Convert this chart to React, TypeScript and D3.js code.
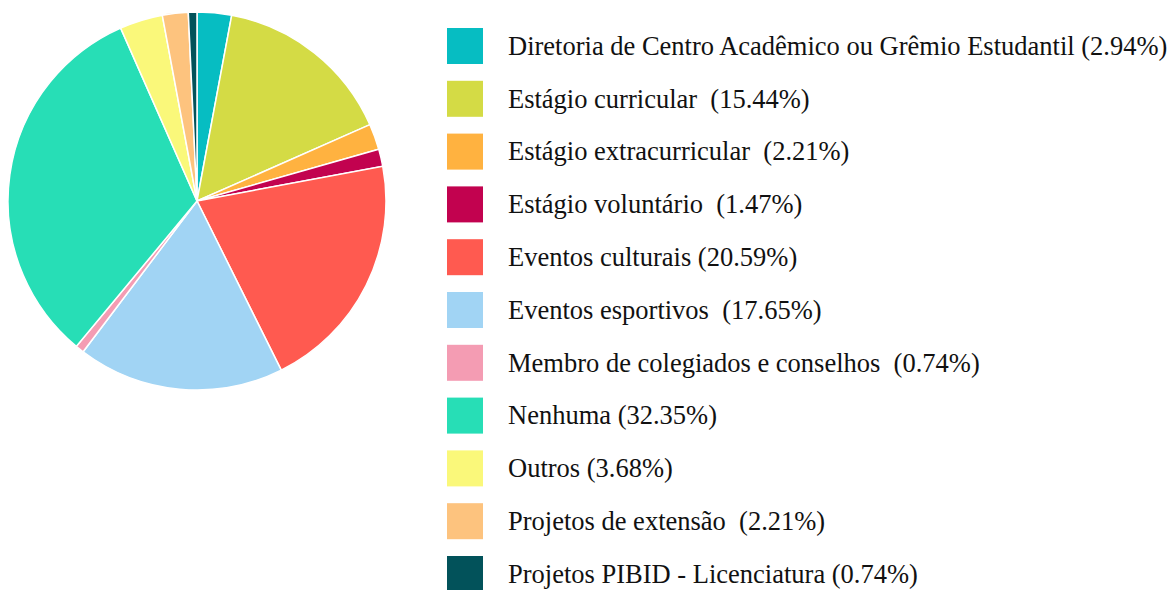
import React, { useMemo } from "react";
import * as d3 from "d3";

const labels = [
  "Diretoria de Centro Acadêmico ou Grêmio Estudantil (2.94%)",
  "Estágio curricular  (15.44%)",
  "Estágio extracurricular  (2.21%)",
  "Estágio voluntário  (1.47%)",
  "Eventos culturais (20.59%)",
  "Eventos esportivos  (17.65%)",
  "Membro de colegiados e conselhos  (0.74%)",
  "Nenhuma (32.35%)",
  "Outros (3.68%)",
  "Projetos de extensão  (2.21%)",
  "Projetos PIBID - Licenciatura (0.74%)",
];
const values = [4, 21, 3, 2, 28, 24, 1, 44, 5, 3, 1];
const colors = [
  "#06BDC2", "#D4DB45", "#FFB240", "#C2024F", "#FF5A50", "#A1D4F4",
  "#F49CB3", "#27DEB6", "#FAF87A", "#FDC37E", "#02525A",
];

export default function App() {
  const W = 1174, H = 590;
  const cx = 197, cy = 201, r = 189;
  const arcs = useMemo(() => d3.pie<number>().sort(null).value(d => d)(values), []);
  const arcGen = d3.arc<d3.PieArcDatum<number>>().innerRadius(0).outerRadius(r);
  const y = d3.scalePoint<number>().domain(d3.range(labels.length)).range([46, 574]);
  return (
    <svg width={W} height={H} style={{ position: "absolute", left: 0, top: 0 }}>
      <g transform={`translate(${cx},${cy})`}>
        {arcs.map((a, i) => (
          <path key={i} d={arcGen(a) || ""} fill={colors[i]} stroke="#fff" strokeWidth={1.5} />
        ))}
      </g>
      {labels.map((l, i) => (
        <g key={i}>
          <rect x={447} y={(y(i) as number) - 18} width={36} height={36} fill={colors[i]} />
          <text x={508} y={(y(i) as number)} dy="0.33em" fontFamily="'Liberation Serif', serif" fontSize={26.5} fill="#111" style={{ whiteSpace: "pre" }}>{l}</text>
        </g>
      ))}
    </svg>
  );
}
